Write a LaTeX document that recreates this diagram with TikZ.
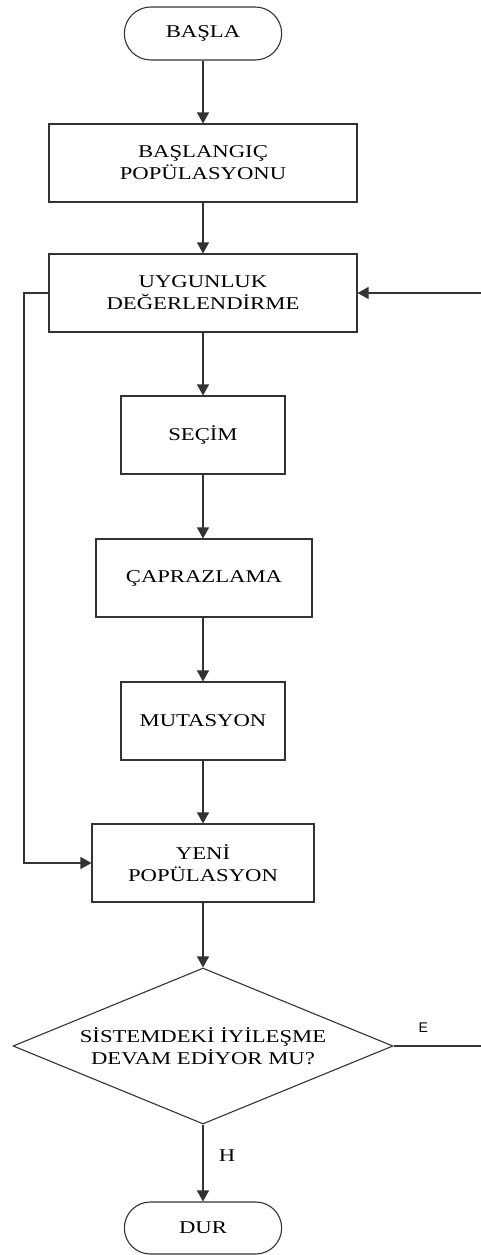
\documentclass[tikz,border=0pt]{standalone}
\usepackage{fontspec}
\setmainfont{Liberation Serif}[FakeStretch=1.26]
\newfontfamily\lblsans{Liberation Sans}
\usetikzlibrary{shapes.geometric,shapes.misc,arrows.meta}
\begin{document}
\begin{tikzpicture}[x=1pt,y=-1pt,
  every node/.style={font=\fontsize{18}{22}\selectfont, text=black},
  ln/.style={draw=black!80, line width=1.1pt},
  arr/.style={ln, -{Triangle[width=12pt,length=11pt]}},
  box/.style={ln, rectangle, minimum height=78pt, align=center, inner sep=2pt},
  term/.style={ln, rounded rectangle, minimum width=164pt, minimum height=53pt, align=center},
  dec/.style={ln, diamond, aspect=2.44, minimum width=380pt, minimum height=156pt, align=center, inner sep=0pt}
]
\useasboundingbox (0,0) rectangle (481,1255);
\node[term] (start) at (203,33.5) {BAŞLA};
\node[box, minimum width=308pt] (init) at (203,163) {BAŞLANGIÇ\\POPÜLASYONU};
\node[box, minimum width=308pt] (fit) at (203,293) {UYGUNLUK\\DEĞERLENDİRME};
\node[box, minimum width=164pt] (sel) at (203,435) {SEÇİM};
\node[box, minimum width=216pt] (cross) at (204,578) {ÇAPRAZLAMA};
\node[box, minimum width=164pt] (mut) at (203,721) {MUTASYON};
\node[box, minimum width=222pt] (new) at (203,863) {YENİ\\POPÜLASYON};
\node[dec] (check) at (203,1046) {SİSTEMDEKİ İYİLEŞME\\DEVAM EDİYOR MU?};
\node[term, minimum height=52pt] (stop) at (203,1228) {DUR};

\coordinate (lx) at (24,293);
\coordinate (fr) at (481,293);
\coordinate (er) at (481,1046);

\draw[arr] (start.south) -- (init.north);
\draw[arr] (init.south) -- (fit.north);
\draw[arr] (fit.south) -- (sel.north);
\draw[arr] (sel.south) -- (sel.south |- cross.north);
\draw[arr] (cross.south -| mut.north) -- (mut.north);
\draw[arr] (mut.south) -- (new.north);
\draw[arr] (new.south) -- (check.north);
\draw[arr] (check.south) -- node[pos=0.4, xshift=24pt] {H} (stop.north);
\draw[ln] (check.east) -- node[pos=0.34, yshift=18pt, font=\lblsans\fontsize{14}{16}\selectfont] {E} (er);
\draw[arr] (fr) -- (fit.east);
\draw[arr] (fit.west) -- (lx) |- (new.west);
\end{tikzpicture}
\end{document}
